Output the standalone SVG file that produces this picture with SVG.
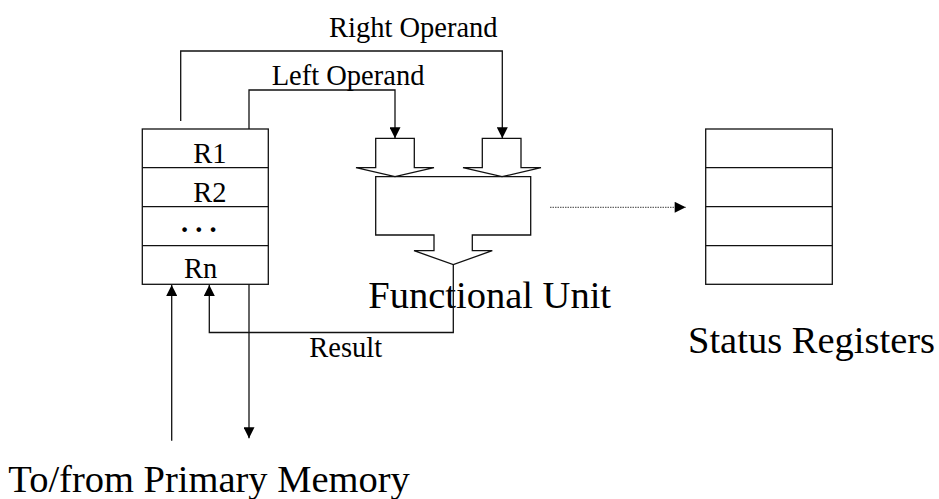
<svg xmlns="http://www.w3.org/2000/svg" width="939" height="499" viewBox="0 0 939 499">
<style>
.s{fill:none;stroke:#111;stroke-width:1.3}
.t{font-family:"Liberation Serif","Times New Roman",serif;fill:#000}
.sm{font-size:28.5px}
.lg{font-size:38.5px}
</style>
<defs>
<marker id="ah" viewBox="0 0 12 12" refX="12" refY="6" markerWidth="12" markerHeight="11" orient="auto" markerUnits="userSpaceOnUse">
<path d="M0,0 L12,6 L0,12 Z" fill="#000"/>
</marker>
</defs>
<rect width="939" height="499" fill="#fff"/>
<g id="register-file">
<rect class="s" x="142.3" y="129" width="126" height="155.3"/>
<path class="s" d="M142.3,167.7H268.3M142.3,206.7H268.3M142.3,245.7H268.3"/>
<text class="t sm" x="193.3" y="163.3">R1</text>
<text class="t sm" x="193.3" y="201.7">R2</text>
<text class="t sm" x="181" y="232" font-weight="bold" font-size="30">. . .</text>
<text class="t sm" x="184" y="278.3">Rn</text>
</g>
<g id="functional-unit">
<path class="s" d="M375.7,138.3H414.3V167.7H434L395,176.7L356,167.7H375.7Z"/>
<path class="s" d="M482.3,138.3H521V167.7H541L502,176.7L463,167.7H482.3Z"/>
<path class="s" d="M375.7,176.7H530.7V235H472.3V250.7H492.3L453.3,264.5L414,250.7H434V235H375.7Z"/>
<text class="t lg" x="368.3" y="307.7">Functional Unit</text>
</g>
<g id="status-registers">
<rect class="s" x="705.7" y="129" width="126.6" height="155.3"/>
<path class="s" d="M705.7,167.7H832.3M705.7,206.7H832.3M705.7,245.7H832.3"/>
<text class="t lg" x="688" y="353.3">Status Registers</text>
</g>
<g id="connectors">
<path class="s" d="M180.7,121V51H502.3V138.3" marker-end="url(#ah)"/>
<path class="s" d="M249,129V90H395V138.3" marker-end="url(#ah)"/>
<path class="s" d="M453.3,264.5V332.5H209.3V285" marker-end="url(#ah)"/>
<path class="s" d="M171.7,440.7V285" marker-end="url(#ah)"/>
<path class="s" d="M249,284.3V438.3" marker-end="url(#ah)"/>
<path d="M550,207.3H685.7" fill="none" stroke="#666" stroke-width="1.2" stroke-dasharray="1.5 1" marker-end="url(#ah)"/>
</g>
<g id="labels">
<text class="t sm" x="329" y="36.7">Right Operand</text>
<text class="t sm" x="271.7" y="85">Left Operand</text>
<text class="t sm" x="309.3" y="357.3">Result</text>
<text class="t lg" x="8.3" y="492.3">To/from Primary Memory</text>
</g>
</svg>
